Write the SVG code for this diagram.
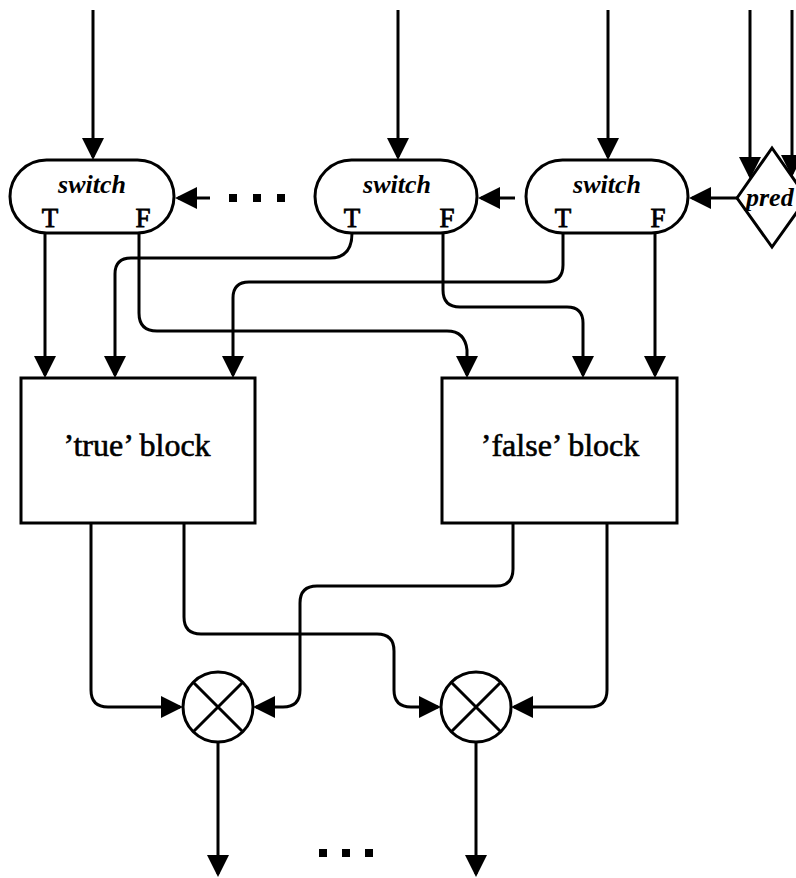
<svg xmlns="http://www.w3.org/2000/svg" width="796" height="878" viewBox="0 0 796 878">
<defs>
<marker id="ah" markerUnits="userSpaceOnUse" markerWidth="22" markerHeight="22" viewBox="0 0 22 22" refX="19" refY="11" orient="auto">
<path d="M0,0 L22,11 L0,22 Z" fill="#000"/>
</marker>
</defs>
<style>
.ln{fill:none;stroke:#000;stroke-width:3;marker-end:url(#ah)}
.pl{fill:none;stroke:#000;stroke-width:3}
.sh{fill:#fff;stroke:#000;stroke-width:3}
.sw{font-family:"Liberation Serif",serif;font-style:italic;font-weight:bold;font-size:26px;text-anchor:middle}
.tf{font-family:"Liberation Serif",serif;font-size:27px;text-anchor:middle;stroke:#000;stroke-width:0.8}
.bl{font-family:"Liberation Serif",serif;font-size:32px;text-anchor:middle;stroke:#000;stroke-width:0.6}
.dot{fill:#000}
</style>
<rect width="796" height="878" fill="#fff"/>
<g id="connectors">
<path class="ln" d="M93,10 V157"/>
<path class="ln" d="M398,10 V157"/>
<path class="ln" d="M608,10 V157"/>
<path class="ln" d="M750,10 V176"/>
<path class="ln" d="M792,10 V174"/>
<path class="ln" d="M210,198 H178"/>
<path class="ln" d="M515,198 H481"/>
<path class="ln" d="M737,198 H692"/>
<path class="ln" d="M45,233 V375"/>
<path class="ln" d="M139,233 V313 Q139,331 157,331 H447 Q465,331 467,350 V375"/>
<path class="ln" d="M352,233 Q352,258 330,258 H131 Q115,258 115,274 V375"/>
<path class="ln" d="M563,233 V265 Q563,282 546,282 H249 Q233,282 233,298 V375"/>
<path class="ln" d="M443,233 V290 Q443,307 460,307 H567 Q583,307 583,323 V375"/>
<path class="ln" d="M655,233 V375"/>
<path class="ln" d="M91,523 V690 Q91,707 108,707 H180"/>
<path class="ln" d="M184,523 V617 Q184,634 201,634 H377 Q394,634 394,651 V690 Q394,707 411,707 H438"/>
<path class="ln" d="M513,523 V569 Q513,586 496,586 H317 Q300,586 300,603 V690 Q300,707 283,707 H256"/>
<path class="ln" d="M607,523 V690 Q607,707 590,707 H514"/>
<path class="ln" d="M218,742 V874"/>
<path class="ln" d="M476,742 V874"/>
</g>
<g id="dots-top">
<rect class="dot" x="229" y="194" width="8" height="8"/>
<rect class="dot" x="253" y="194" width="8" height="8"/>
<rect class="dot" x="277" y="194" width="8" height="8"/>
</g>
<g id="dots-bottom">
<rect class="dot" x="319" y="849" width="8" height="8"/>
<rect class="dot" x="342" y="849" width="8" height="8"/>
<rect class="dot" x="365" y="849" width="8" height="8"/>
</g>
<g id="switch1">
<rect class="sh" x="10" y="160" width="164" height="73" rx="36.5"/>
<text class="sw" x="92" y="193">switch</text>
<text class="tf" x="50" y="227">T</text>
<text class="tf" x="143" y="227">F</text>
</g>
<g id="switch2">
<rect class="sh" x="315" y="160" width="162" height="73" rx="36.5"/>
<text class="sw" x="397" y="193">switch</text>
<text class="tf" x="352" y="227">T</text>
<text class="tf" x="447" y="227">F</text>
</g>
<g id="switch3">
<rect class="sh" x="526" y="160" width="162" height="73" rx="36.5"/>
<text class="sw" x="607" y="193">switch</text>
<text class="tf" x="563" y="227">T</text>
<text class="tf" x="658" y="227">F</text>
</g>
<g id="pred">
<polygon class="sh" points="737,198 772,148 807,198 772,247"/>
<text class="sw" x="746" y="206" style="text-anchor:start">pred</text>
</g>
<g id="true-block">
<rect class="sh" x="21" y="378" width="234" height="145"/>
<text class="bl" x="137" y="456">’true’ block</text>
</g>
<g id="false-block">
<rect class="sh" x="442" y="378" width="235" height="145"/>
<text class="bl" x="560" y="456">’false’ block</text>
</g>
<g id="merge1">
<circle class="sh" cx="218" cy="707" r="35"/>
<path class="pl" d="M193,682 L243,732 M243,682 L193,732"/>
</g>
<g id="merge2">
<circle class="sh" cx="476" cy="707" r="35"/>
<path class="pl" d="M451,682 L501,732 M501,682 L451,732"/>
</g>
</svg>
